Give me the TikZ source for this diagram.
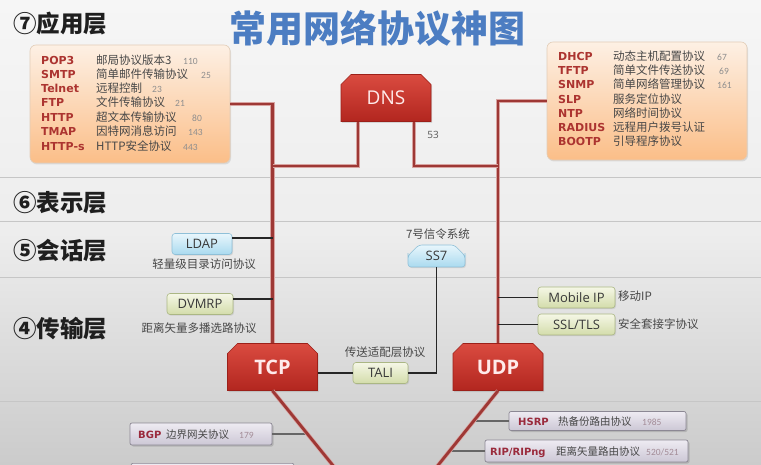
\documentclass[tikz,border=0pt]{standalone}
\usepackage{fontspec}
\usetikzlibrary{shapes.misc,shadows}
\newfontfamily\cjk{Noto Sans CJK SC}
\newfontfamily\dvb{DejaVu Sans}
\newfontfamily\osans{Open Sans}
\newfontfamily\carl{Carlito}
\definecolor{bgtop}{HTML}{F6F6F6}
\definecolor{bgmid}{HTML}{EDEDED}
\definecolor{bgbot}{HTML}{CBCBCB}
\definecolor{trunk}{HTML}{9E3835}
\definecolor{trunkhalo}{HTML}{D8A4A1}
\definecolor{pred}{HTML}{AC3430}
\definecolor{bred}{HTML}{9A2A3C}
\definecolor{desc}{HTML}{474747}
\definecolor{numc}{HTML}{8E8E8E}
\definecolor{bnum}{HTML}{A38C97}
\definecolor{titleblue}{HTML}{4C7DC2}
\definecolor{otop}{HTML}{FDF0E4}
\definecolor{obot}{HTML}{FBBE88}
\definecolor{oline}{HTML}{E2CDB8}
\definecolor{rtop}{HTML}{DA4B40}
\definecolor{rbot}{HTML}{B2261F}
\definecolor{rline}{HTML}{9C2019}
\definecolor{btop}{HTML}{E8F6FC}
\definecolor{bbot}{HTML}{AADAEF}
\definecolor{bline}{HTML}{8FC0D8}
\definecolor{gtop}{HTML}{F5F7E6}
\definecolor{gbot}{HTML}{D3DCAA}
\definecolor{gline}{HTML}{ABB784}
\definecolor{ytop}{HTML}{EEEBF2}
\definecolor{ybot}{HTML}{CCC7D5}
\definecolor{yline}{HTML}{8C8894}
\definecolor{sepc}{HTML}{C6C6C6}
\begin{document}
\begin{tikzpicture}[x=1pt,y=-1pt,
  sepline/.style={draw=sepc,line width=1pt},
  layer/.style={anchor=west,inner sep=0,text=black!88,font=\cjk\bfseries\fontsize{23.5}{23.5}\selectfont},
  titletext/.style={inner sep=0,text=titleblue,font=\cjk\bfseries\fontsize{37}{37}\selectfont},
  pbox/.style={rounded corners=6pt,draw=oline,line width=0.6pt,top color=otop,bottom color=obot,minimum width=200pt,minimum height=118pt,inner sep=0,
    drop shadow={shadow xshift=1pt,shadow yshift=-1.5pt,opacity=0.2}},
  pname/.style={anchor=base west,inner sep=0,text=pred,font=\dvb\bfseries\fontsize{11}{12}\selectfont},
  pdesc/.style={anchor=base west,inner sep=0,text=desc,font=\cjk\fontsize{11.5}{12}\selectfont},
  pnum/.style={anchor=base west,inner sep=0,text=numc,font=\carl\fontsize{9.5}{10}\selectfont},
  redbox/.style={chamfered rectangle,chamfered rectangle corners={north west,north east},
    chamfered rectangle xsep=5pt,chamfered rectangle ysep=5pt,draw=rline,line width=0.6pt,
    top color=rtop,bottom color=rbot,text=white!92!red,inner sep=0,minimum width=90pt,minimum height=47pt,
    drop shadow={shadow xshift=1pt,shadow yshift=-1.5pt,opacity=0.25}},
  trunkline/.style={draw=trunk,line width=2.3pt,preaction={draw=trunkhalo,line width=4.2pt}},
  conn/.style={draw=black!85,line width=1.7pt},
  gconn/.style={draw=black!60,line width=1.4pt},
  smallbox/.style={rounded corners=3pt,line width=0.6pt,inner sep=0,minimum height=21pt,text=black!78,
    font=\osans\fontsize{13}{13}\selectfont,drop shadow={shadow xshift=1pt,shadow yshift=-1.2pt,opacity=0.2}},
  bluebox/.style={smallbox,draw=bline,top color=btop,bottom color=bbot},
  greenbox/.style={smallbox,draw=gline,top color=gtop,bottom color=gbot},
  graybox/.style={rounded corners=2pt,line width=0.7pt,inner sep=0,draw=yline,top color=ytop,bottom color=ybot,
    drop shadow={shadow xshift=1.5pt,shadow yshift=-1.5pt,opacity=0.35}},
  smalllabel/.style={inner sep=0,text=desc,font=\cjk\fontsize{11.5}{12}\selectfont},
  bname/.style={anchor=base west,inner sep=0,text=bred,font=\dvb\bfseries\fontsize{10}{11}\selectfont},
  bdesc/.style={anchor=base west,inner sep=0,text=desc,font=\cjk\fontsize{10.5}{11}\selectfont},
  bnumber/.style={anchor=base west,inner sep=0,text=bnum,font=\carl\fontsize{9.5}{10}\selectfont}
]
\useasboundingbox (0,0) rectangle (761,465);
\clip (0,0) rectangle (761,465);
\fill[top color=bgtop,bottom color=bgbot,middle color=bgmid] (0,0) rectangle (761,465);
% layer separators
\foreach \yy in {178,222,278,401} \draw[sepline] (0,\yy) -- (761,\yy);
% layer labels and title
\node[layer] (L7) at (13,24) {⑦应用层};
\node[layer] (L6) at (13,203) {⑥表示层};
\node[layer] (L5) at (13,251) {⑤会话层};
\node[layer] (L4) at (13,329) {④传输层};
\node[titletext] (title) at (377,28) {常用网络协议神图};
% application protocol boxes
\node[pbox] (lbox) at (130,104) {};
\node[pbox] (rbox) at (647,101) {};
\foreach \nm/\ds/\nu/\nx/\yy [count=\i] in {%
POP3/邮局协议版本3/110/183/65,%
SMTP/简单邮件传输协议/25/201/79,%
Telnet/远程控制/23/152/93,%
FTP/文件传输协议/21/175/107,%
HTTP/超文本传输协议/80/192/122,%
TMAP/因特网消息访问/143/188/136,%
HTTP-s/HTTP安全协议/443/183/151}{%
  \node[pname] (ln\i) at (41,\yy) {\nm};
  \node[pdesc] (ld\i) at (96,\yy) {\ds};
  \node[pnum] (lu\i) at (\nx,\yy) {\nu};
}
\foreach \nm/\ds/\yy [count=\i] in {%
DHCP/动态主机配置协议/61,%
TFTP/简单文件传送协议/75,%
SNMP/简单网络管理协议/89,%
SLP/服务定位协议/104,%
NTP/网络时间协议/118,%
RADIUS/远程用户拨号认证/132,%
BOOTP/引导程序协议/146}{%
  \node[pname] (rn\i) at (558,\yy) {\nm};
  \node[pdesc] (rd\i) at (613,\yy) {\ds};
}
\node[pnum] (ru1) at (717,61) {67};
\node[pnum] (ru2) at (719,75) {69};
\node[pnum] (ru3) at (717,89) {161};
% red protocol boxes
\node[redbox,font=\osans\fontsize{19}{19}\selectfont] (dns) at (386,98) {DNS};
\node[redbox,font=\osans\bfseries\fontsize{20}{20}\selectfont] (tcp) at (272.5,367) {TCP};
\node[redbox,font=\osans\bfseries\fontsize{20}{20}\selectfont] (udp) at (498,367) {UDP};
\node[inner sep=0,text=black!65,font=\osans\fontsize{10}{10}\selectfont] (n53) at (433,135) {53};
% trunk lines
\coordinate (dnsrow) at (0,166);
\draw[trunkline] (lbox.east) -| (tcp.north);
\draw[trunkline] (rbox.west) -| (udp.north);
\draw[trunkline] ([xshift=-28pt]dns.south) |- (tcp.north |- dnsrow);
\draw[trunkline] ([xshift=28pt]dns.south) |- (udp.north |- dnsrow);
% session / transport protocols
\node[bluebox,minimum width=60pt] (ldap) at (202,244) {LDAP};
\node[smalllabel] (ldapl) at (204,264) {轻量级目录访问协议};
\node[greenbox,minimum width=66pt] (dvmrp) at (200,304) {DVMRP};
\node[smalllabel] (dvmrpl) at (199,328) {距离矢量多播选路协议};
\node[bluebox,chamfered rectangle,chamfered rectangle corners={north west,north east},
  chamfered rectangle xsep=6pt,chamfered rectangle ysep=6pt,minimum width=57pt,minimum height=22pt] (ss7) at (436.5,256) {SS7};
\node[smalllabel] (ss7l) at (438,234) {7号信令系统};
\node[greenbox,minimum width=55pt] (tali) at (380.5,373) {TALI};
\node[smalllabel] (talil) at (385,352) {传送适配层协议};
\node[greenbox,minimum width=77pt] (mip) at (576.5,297.5) {Mobile IP};
\node[smalllabel,anchor=west] (mipl) at (618,296) {移动IP};
\node[greenbox,minimum width=77pt] (ssl) at (576.5,324.5) {SSL/TLS};
\node[smalllabel,anchor=west] (ssll) at (618,324) {安全套接字协议};
\coordinate (ldapC) at ([yshift=6pt]ldap.east);
\coordinate (dvmrpC) at ([yshift=5pt]dvmrp.east);
\draw[conn] (ldapC) -- (tcp.north |- ldapC);
\draw[conn] (dvmrpC) -- (tcp.north |- dvmrpC);
\draw[conn] (ss7.south) |- (tali.east);
\draw[conn] (tcp.east |- tali.west) -- (tali.west);
\draw[conn] (mip.west) -- (udp.north |- mip.west);
\draw[conn] (ssl.west) -- (udp.north |- ssl.west);
% network layer boxes
\node[graybox,minimum width=142pt,minimum height=22pt] (bgp) at (201,434) {};
\node[bname] (bgpn) at (138,438) {BGP};
\node[bdesc] (bgpd) at (166,438) {边界网关协议};
\node[bnumber] (bgpu) at (239,438) {179};
\node[graybox,minimum width=177pt,minimum height=19pt] (hsrp) at (597.5,421) {};
\node[bname] (hsrpn) at (518,425) {HSRP};
\node[bdesc] (hsrpd) at (558,425) {热备份路由协议};
\node[bnumber] (hsrpu) at (642,425) {1985};
\node[graybox,minimum width=203pt,minimum height=22pt] (rip) at (586.5,451) {};
\node[bname] (ripn) at (490,455) {RIP/RIPng};
\node[bdesc] (ripd) at (556,455) {距离矢量路由协议};
\node[bnumber] (ripu) at (646,455) {520/521};
\node[graybox,minimum width=163pt,minimum height=20pt,anchor=north] (bot) at (212.5,463) {};
\coordinate (dl) at (369,510);
\coordinate (dr) at (402,510);
\coordinate (jbgp) at (308,434);
\coordinate (jhsrp) at (473.6,421);
\coordinate (jrip) at (449.4,451);
\draw[gconn] (bgp.east) -- (jbgp);
\draw[gconn] (hsrp.west) -- (jhsrp);
\draw[gconn] (rip.west) -- (jrip);
\draw[trunkline,line width=2.8pt] (tcp.south) -- (dl);
\draw[trunkline,line width=2.8pt] (udp.south) -- (dr);
\end{tikzpicture}
\end{document}
